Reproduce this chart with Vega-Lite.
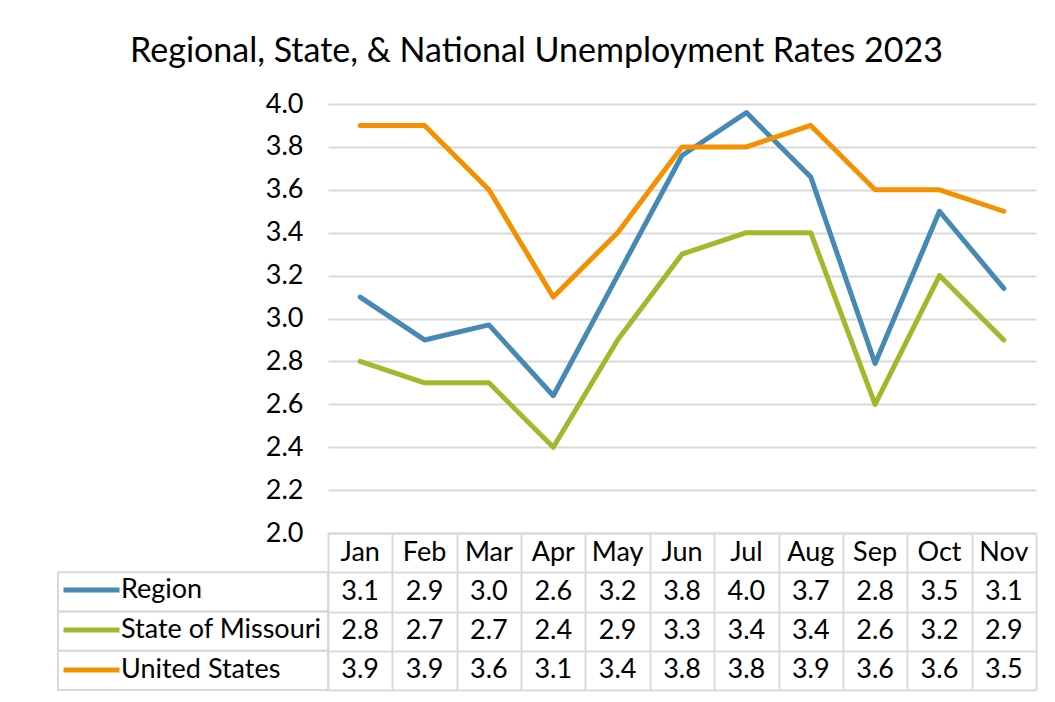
{
  "$schema": "https://vega.github.io/schema/vega-lite/v6.json",
  "padding": {"left": 57, "top": 35, "right": 10, "bottom": 5},
  "background": "white",
  "title": {"text": "Regional, State, & National Unemployment Rates 2023", "fontSize": 34, "font": "Lato", "fontWeight": "normal", "color": "black", "anchor": "middle", "dx": -10, "offset": 21},
  "bounds": "flush",
  "spacing": 0,
  "columns": 2,
  "config": {
    "view": {"stroke": null},
    "font": "Lato",
    "text": {"font": "Lato", "fontSize": 27, "color": "black"}
  },
  "datasets": {
    "d": [
      {"month": "Jan", "series": "Region", "value": 3.1},
      {"month": "Feb", "series": "Region", "value": 2.9},
      {"month": "Mar", "series": "Region", "value": 2.97},
      {"month": "Apr", "series": "Region", "value": 2.64},
      {"month": "May", "series": "Region", "value": 3.2},
      {"month": "Jun", "series": "Region", "value": 3.76},
      {"month": "Jul", "series": "Region", "value": 3.96},
      {"month": "Aug", "series": "Region", "value": 3.66},
      {"month": "Sep", "series": "Region", "value": 2.79},
      {"month": "Oct", "series": "Region", "value": 3.5},
      {"month": "Nov", "series": "Region", "value": 3.14},
      {"month": "Jan", "series": "State of Missouri", "value": 2.8},
      {"month": "Feb", "series": "State of Missouri", "value": 2.7},
      {"month": "Mar", "series": "State of Missouri", "value": 2.7},
      {"month": "Apr", "series": "State of Missouri", "value": 2.4},
      {"month": "May", "series": "State of Missouri", "value": 2.9},
      {"month": "Jun", "series": "State of Missouri", "value": 3.3},
      {"month": "Jul", "series": "State of Missouri", "value": 3.4},
      {"month": "Aug", "series": "State of Missouri", "value": 3.4},
      {"month": "Sep", "series": "State of Missouri", "value": 2.6},
      {"month": "Oct", "series": "State of Missouri", "value": 3.2},
      {"month": "Nov", "series": "State of Missouri", "value": 2.9},
      {"month": "Jan", "series": "United States", "value": 3.9},
      {"month": "Feb", "series": "United States", "value": 3.9},
      {"month": "Mar", "series": "United States", "value": 3.6},
      {"month": "Apr", "series": "United States", "value": 3.1},
      {"month": "May", "series": "United States", "value": 3.4},
      {"month": "Jun", "series": "United States", "value": 3.8},
      {"month": "Jul", "series": "United States", "value": 3.8},
      {"month": "Aug", "series": "United States", "value": 3.9},
      {"month": "Sep", "series": "United States", "value": 3.6},
      {"month": "Oct", "series": "United States", "value": 3.6},
      {"month": "Nov", "series": "United States", "value": 3.5}
    ]
  },
  "concat": [
    {"width": 270, "height": 429, "data": {"values": []}, "mark": "point"},
    {
      "width": 708,
      "height": 429,
      "data": {"name": "d"},
      "mark": {"type": "line", "strokeWidth": 5, "strokeCap": "round", "strokeJoin": "round"},
      "encoding": {
        "x": {"field": "month", "type": "nominal", "sort": ["Jan","Feb","Mar","Apr","May","Jun","Jul","Aug","Sep","Oct","Nov"], "axis": null},
        "y": {"field": "value", "type": "quantitative",
          "scale": {"domain": [2, 4], "zero": false, "nice": false},
          "axis": {"values": [2, 2.2, 2.4, 2.6, 2.8, 3, 3.2, 3.4, 3.6, 3.8, 4], "format": ".1f", "title": null, "grid": true, "gridColor": "#d9d9d9", "gridWidth": 2, "domain": false, "ticks": false, "labelFontSize": 27, "labelFont": "Lato", "labelColor": "black", "labelPadding": 25}},
        "color": {"field": "series", "type": "nominal",
          "scale": {"domain": ["Region", "State of Missouri", "United States"], "range": ["#4789B5", "#A3B92B", "#F59100"]},
          "legend": {"orient": "none", "legendX": 3, "legendY": 466, "title": null, "symbolType": "stroke", "symbolSize": 3136, "symbolStrokeWidth": 5, "labelFontSize": 27, "labelFont": "Lato", "labelColor": "black", "labelOffset": -1, "labelLimit": 400, "rowPadding": 0, "clipHeight": 40, "padding": 0}}
      }
    },
    {
      "width": 270,
      "height": 157,
      "data": {"name": "d"},
      "transform": [{"filter": "datum.month == 'Jan'"}],
      "mark": {"type": "rect", "fill": "transparent", "stroke": "#d9d9d9", "strokeWidth": 2},
      "encoding": {
        "y": {"field": "series", "type": "nominal", "scale": {"domain": ["Month", "Region", "State of Missouri", "United States"], "paddingInner": 0, "paddingOuter": 0}, "axis": null}
      }
    },
    {
      "width": 708,
      "height": 157,
      "data": {"name": "d"},
      "encoding": {
        "x": {"field": "month", "type": "nominal", "sort": ["Jan","Feb","Mar","Apr","May","Jun","Jul","Aug","Sep","Oct","Nov"],
          "scale": {"type": "band", "paddingInner": 0, "paddingOuter": 0},
          "axis": {"grid": true, "tickBand": "extent", "gridColor": "#d9d9d9", "gridWidth": 2, "labels": false, "ticks": false, "domain": false, "title": null}}
      },
      "layer": [
        {
          "mark": {"type": "text", "fontSize": 27, "font": "Lato", "color": "black"},
          "encoding": {
            "y": {"field": "series", "type": "nominal", "scale": {"domain": ["Month", "Region", "State of Missouri", "United States"], "paddingInner": 0, "paddingOuter": 0},
              "axis": {"grid": true, "tickBand": "extent", "gridColor": "#d9d9d9", "gridWidth": 2, "labels": false, "ticks": false, "domain": false, "title": null, "minExtent": 0}},
            "text": {"field": "value", "type": "quantitative", "format": ".1f"}
          }
        },
        {
          "transform": [{"filter": "datum.series == 'Region'"}],
          "mark": {"type": "text", "fontSize": 27, "font": "Lato", "color": "black"},
          "encoding": {
            "y": {"datum": "Month", "type": "nominal"},
            "text": {"field": "month", "type": "nominal"}
          }
        }
      ]
    }
  ]
}
